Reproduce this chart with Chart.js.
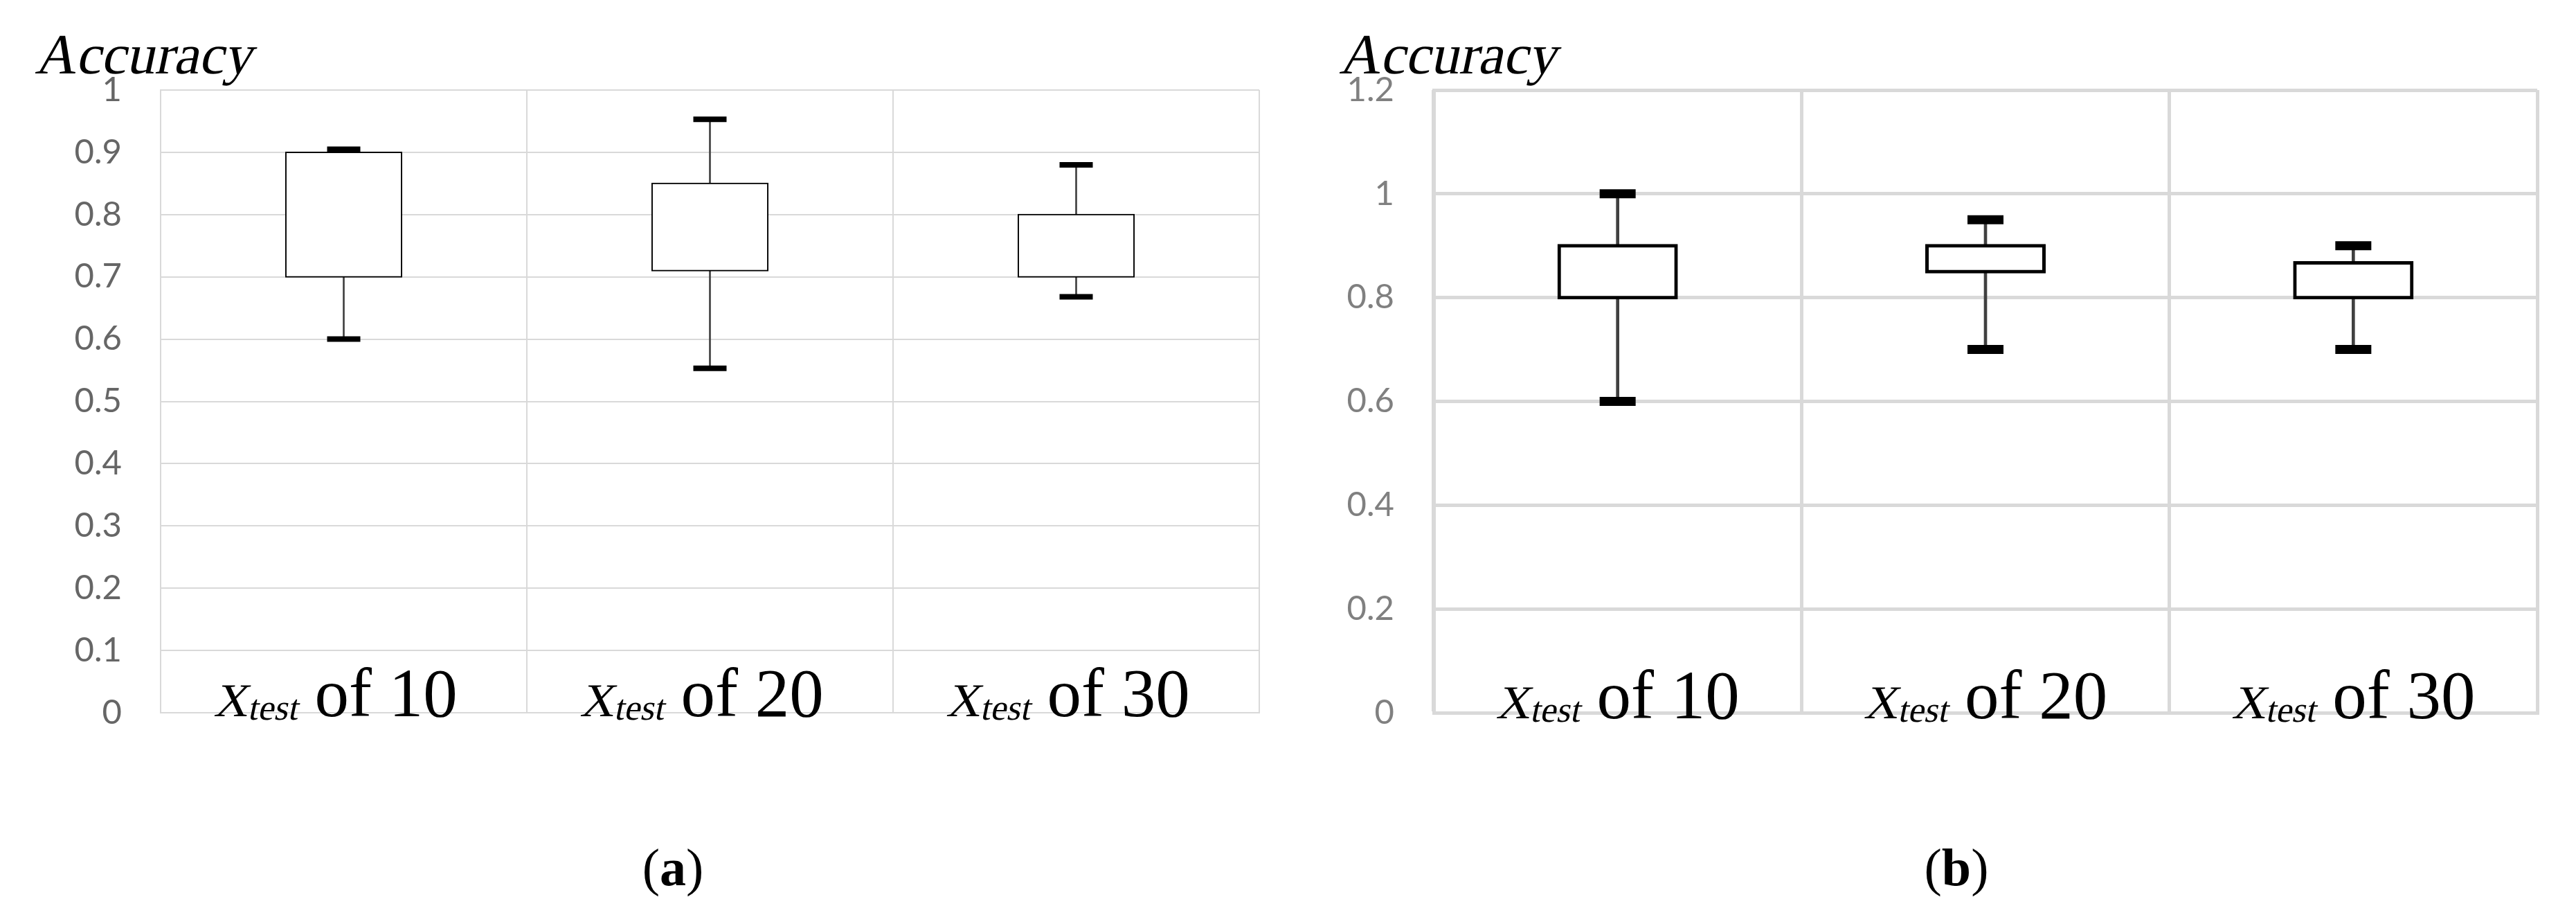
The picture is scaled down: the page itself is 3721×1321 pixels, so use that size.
<!DOCTYPE html>
<html>
<head>
<meta charset="utf-8">
<script src="https://cdn.jsdelivr.net/npm/chart.js@4.4.1/dist/chart.umd.min.js"></script>
<style>
  html, body { margin: 0; padding: 0; background: #fff; overflow: hidden; }
  .wrap { position: absolute; top: 0; }
  .cap { position: absolute; font-family: "Liberation Serif", serif; font-size: 76px; line-height: 90px; text-align: center; color: #000; }
</style>
</head>
<body>
<div class="wrap" style="left:0;width:1860px;height:1100px;"><canvas id="ca" width="1860" height="1100" style="width:1860px;height:1100px;"></canvas></div>
<div class="wrap" style="left:1860px;width:1861px;height:1100px;"><canvas id="cb" width="1861" height="1100" style="width:1861px;height:1100px;"></canvas></div>
<div class="cap" style="left:472px;width:1000px;top:1207px;">(<b>a</b>)</div>
<div class="cap" style="left:2326px;width:1000px;top:1207px;">(<b>b</b>)</div>
<script>
// ---- data ----
const xtestSizes = ['10', '20', '30'];
const yTitle = 'Accuracy';

// panel (a)
const aMin = [0.600, 0.553, 0.668];
const aQ1  = [0.700, 0.710, 0.700];
const aQ3  = [0.900, 0.850, 0.800];
const aMax = [0.905, 0.953, 0.880];
const aAxis = { min: 0, max: 1, step: 0.1 };

// panel (b)
const bMin = [0.600, 0.700, 0.700];
const bQ1  = [0.800, 0.850, 0.800];
const bQ3  = [0.900, 0.900, 0.867];
const bMax = [1.000, 0.950, 0.900];
const bAxis = { min: 0, max: 1.2, step: 0.2 };

const SERIF = '"Liberation Serif", "Times New Roman", serif';
const SKEW = -0.21;

function drawRun(ctx, text, font, x, y, italic) {
  ctx.save();
  ctx.font = font;
  ctx.translate(x, y);
  if (italic) ctx.transform(1, 0, SKEW, 1, 0, 0);
  ctx.fillText(text, 0, 0);
  ctx.restore();
}

// ---- plugin: y title + rich x labels "X_test of N" placed via the category scale ----
const textPlugin = {
  id: 'richText',
  afterDraw(chart, args, opts) {
    const { ctx, chartArea } = chart;
    const xs = chart.scales.x;
    ctx.save();
    ctx.fillStyle = '#000';
    ctx.textBaseline = 'alphabetic';
    ctx.textAlign = 'left';
    // y-axis title, upper left
    drawRun(ctx, yTitle, '82px ' + SERIF, chartArea.left - opts.titleDx, opts.titleBase, true);
    // category labels
    const baseY = chartArea.bottom + opts.baseline;
    chart.data.labels.forEach((lab, i) => {
      const runs = [
        { t: 'X', f: '68px ' + SERIF, dy: 0, it: true },
        { t: 'test', f: '52px ' + SERIF, dy: 5, it: true },
        { t: ' of ' + lab, f: '99px ' + SERIF, dy: 0, it: false }
      ];
      let total = 0;
      runs.forEach(r => { ctx.font = r.f; r.w = ctx.measureText(r.t).width; total += r.w; });
      let x = xs.getPixelForValue(i) - total / 2 + opts.shift;
      runs.forEach(r => { drawRun(ctx, r.t, r.f, x, baseY + r.dy, r.it); x += r.w; });
    });
    ctx.restore();
  }
};

function makeChart(id, mins, q1s, q3s, maxs, axis, st) {
  const ranges = q1s.map((q, i) => [q, q3s[i]]);
  const whisk = mins.map((m, i) => [m, maxs[i]]);
  return new Chart(document.getElementById(id), {
    type: 'bar',
    data: {
      labels: xtestSizes,
      datasets: [
        {
          type: 'line', data: maxs, showLine: false, order: -2,
          pointStyle: 'line', pointRadius: st.capR, pointBorderWidth: st.capW,
          pointBorderColor: '#000', pointBackgroundColor: '#000', pointHoverRadius: st.capR
        },
        {
          type: 'line', data: mins, showLine: false, order: -1,
          pointStyle: 'line', pointRadius: st.capR, pointBorderWidth: st.capW,
          pointBorderColor: '#000', pointBackgroundColor: '#000', pointHoverRadius: st.capR
        },
        {
          data: ranges, order: 0, grouped: false,
          backgroundColor: '#fff', borderColor: '#000', borderWidth: st.boxW,
          borderSkipped: false, inflateAmount: st.boxW / 2,
          categoryPercentage: 1, barPercentage: st.boxPct
        },
        {
          data: whisk, order: 1, grouped: false,
          backgroundColor: '#404040', borderWidth: 0,
          barThickness: st.whW
        }
      ]
    },
    options: {
      responsive: false,
      devicePixelRatio: 1,
      animation: false,
      layout: { padding: { left: 0, right: st.padR, top: 130, bottom: 71 } },
      plugins: {
        legend: { display: false },
        tooltip: { enabled: false },
        title: { display: false },
        richText: { baseline: st.lblBase, shift: st.lblShift, titleDx: st.titleDx, titleBase: 106 }
      },
      scales: {
        x: {
          offset: true,
          grid: { display: true, offset: true, color: '#d9d9d9', lineWidth: st.gridW, drawTicks: false },
          border: { display: true, color: '#d9d9d9', width: st.gridW },
          ticks: { display: false },
          afterFit: s => { s.height = 0; s.paddingLeft = 0; s.paddingRight = 0; }
        },
        y: {
          min: axis.min, max: axis.max,
          grid: { color: '#d9d9d9', lineWidth: st.gridW, drawTicks: false },
          border: { display: true, color: '#d9d9d9', width: st.gridW },
          ticks: {
            stepSize: axis.step, padding: st.tickPad, color: st.tickColor,
            font: { family: 'Lato', size: 49 },
            callback: v => String(Math.round(v * 10) / 10)
          },
          afterFit: s => { s.width = st.yW; s.paddingTop = 0; s.paddingBottom = 0; }
        }
      }
    },
    plugins: [textPlugin]
  });
}

makeChart('ca', aMin, aQ1, aQ3, aMax, aAxis, {
  padR: 41, yW: 232, tickPad: 56, tickColor: '#666666', titleDx: 182,
  gridW: 2, boxW: 2, whW: 2, capR: 24, capW: 8, boxPct: 0.316, lblBase: 5, lblShift: -12
});
makeChart('cb', bMin, bQ1, bQ3, bMax, bAxis, {
  padR: 56, yW: 211, tickPad: 57, tickColor: '#808080', titleDx: 137,
  gridW: 5, boxW: 5, whW: 4, capR: 26, capW: 13, boxPct: 0.318, lblBase: 8, lblShift: 0
});
</script>
</body>
</html>
